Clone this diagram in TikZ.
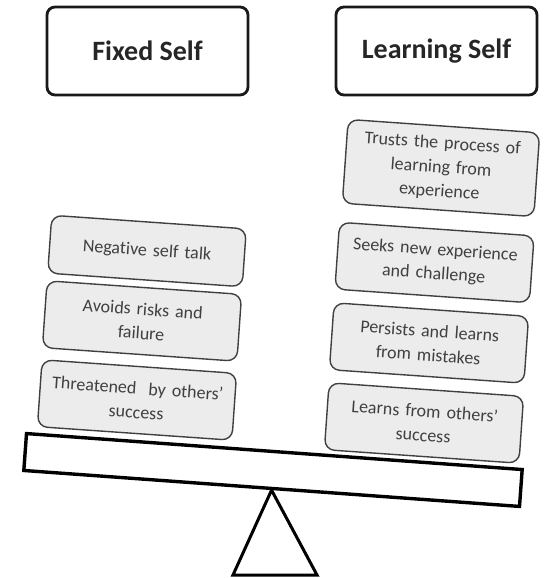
\documentclass[tikz,border=0pt]{standalone}
\usepackage{fontspec}
\setmainfont{Carlito}[Ligatures=NoCommon]
\begin{document}
\begin{tikzpicture}[x=1pt,y=-1pt,
    header/.style={draw=black!90,line width=2.8pt,rounded corners=8pt,
      minimum width=201pt,minimum height=88pt,
      font=\fontsize{28}{32}\selectfont\bfseries,text=black!85},
    trait/.style={draw=black!75,line width=1.4pt,fill=gray!15,rounded corners=10pt,
      rotate=-4,text width=185pt,align=center,inner sep=0pt,
      minimum width=195pt,minimum height=67pt,
      font=\fontsize{18}{24}\selectfont,text=black!75}]
  \useasboundingbox (0,0) rectangle (557,578);
  \node[header] (fixed) at (147.5,51) {Fixed Self};
  \node[header] (learning) at (436.5,51) {Learning Self};
  \begin{scope}
    \def\tilt{-4.15}
    \node[draw,line width=3.4pt,fill=white,rotate=\tilt,inner sep=0pt,
      minimum width=497pt,minimum height=37pt] (beam) at (273,470) {};
    \coordinate (pivot) at (beam.south);
    \coordinate (baseL) at (233,575);
    \coordinate (baseR) at (317,575);
    \draw[line width=3pt] (pivot) -- (baseL) -- (baseR) -- cycle;
  \end{scope}
  \node[trait,minimum height=58pt] (negtalk) at (147,251) {Negative self talk};
  \node[trait] (avoids) at (142,321) {Avoids risks and\\failure};
  \node[trait] (threat) at (137,400) {Threatened\ \ by others’\\success};
  \node[trait,minimum width=192pt,minimum height=84pt] (trusts) at (441,168)
    {Trusts the process of\\learning from\\experience};
  \node[trait] (seeks) at (434.5,262.5) {Seeks new experience\\and challenge};
  \node[trait] (persists) at (429,343) {Persists and learns\\from mistakes};
  \node[trait] (learns) at (424,423) {Learns from others’\\success};
\end{tikzpicture}
\end{document}
